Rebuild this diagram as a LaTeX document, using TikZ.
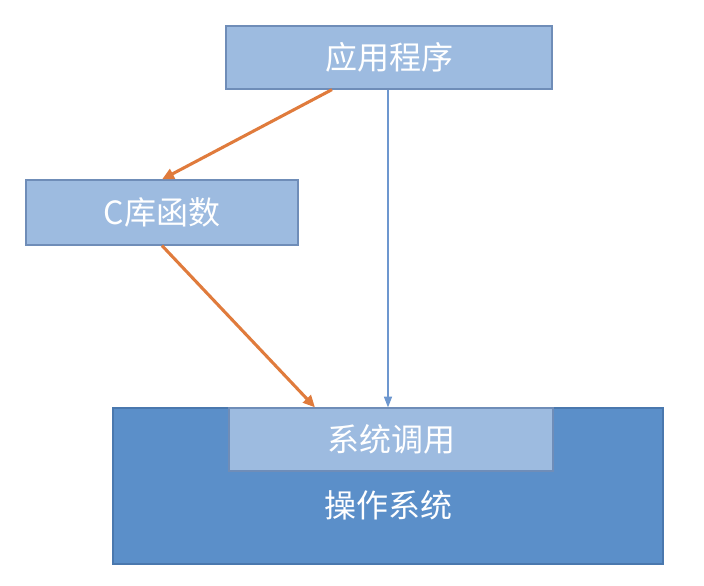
\documentclass[tikz,border=0pt]{standalone}
\usepackage{fontspec}
\newfontfamily\cjk{Noto Sans CJK SC}
\usetikzlibrary{arrows.meta}
\definecolor{lightbox}{HTML}{9DBBE0}
\definecolor{lightedge}{HTML}{6F8DB8}
\definecolor{osfill}{HTML}{5B8FC9}
\definecolor{osedge}{HTML}{4A78AE}
\definecolor{orangeln}{HTML}{E07B3C}
\definecolor{blueln}{HTML}{6D97CF}
\tikzset{
  cjktext/.style={text=white, font=\cjk\fontsize{24}{28}\selectfont},
  lbox/.style={cjktext, draw=lightedge, fill=lightbox, line width=0.9pt, inner sep=0pt},
  orangearrow/.style={draw=orangeln, line width=2.3pt, -{Triangle[length=9pt,width=8pt]}},
  bluearrow/.style={draw=blueln, line width=0.9pt, -{Triangle[length=8pt,width=6pt]}}
}
\begin{document}
\begin{tikzpicture}[x=0.75pt,y=-0.75pt]
\path[use as bounding box, fill=white] (0,0) rectangle (704,586);
% OS
\path[draw=osedge, fill=osfill, line width=0.9pt] (113,408) rectangle (663,564);
\node[cjktext] (os) at (388,505) {操作系统};
% boxes
\node[lbox, minimum width=326*0.75pt, minimum height=63*0.75pt] (app) at (389,57.5) {应用程序};
\node[lbox, minimum width=272*0.75pt, minimum height=65*0.75pt] (clib) at (162,212.5) {C库函数};
\node[lbox, minimum width=324*0.75pt, minimum height=63*0.75pt] (sys) at (391,439.5) {系统调用};
% arrows
\draw[orangearrow] ([xshift=-57*0.75pt]app.south) -- (clib.north);
\draw[orangearrow] (clib.south) -- ([xshift=-76*0.75pt]sys.north);
\draw[bluearrow] ([xshift=-1*0.75pt]app.south) -- ([xshift=-3*0.75pt]sys.north);
\end{tikzpicture}
\end{document}
